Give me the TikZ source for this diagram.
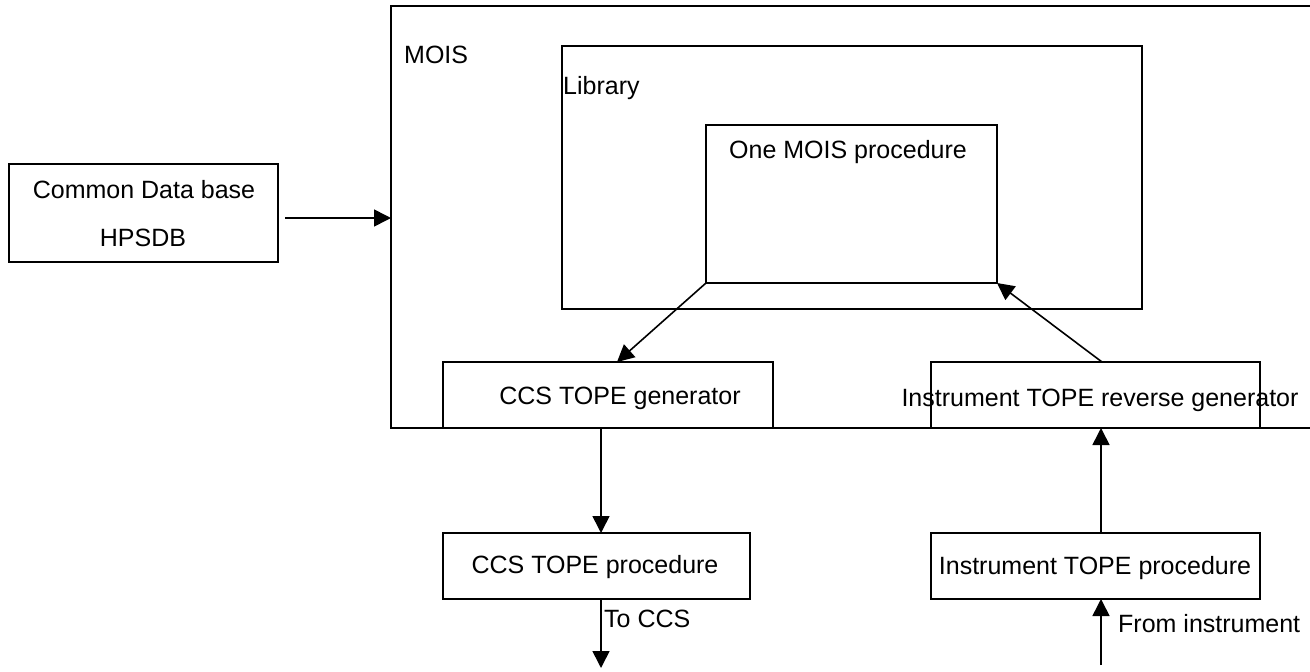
\documentclass[tikz,border=0pt]{standalone}
\usepackage{fontspec}
\setmainfont{Liberation Sans}
\usetikzlibrary{arrows.meta}
\begin{document}
\begin{tikzpicture}[x=1pt,y=-1pt,
  box/.style={draw,line width=1.6pt,inner sep=0pt,outer sep=0pt,anchor=north west},
  lbl/.style={inner sep=0pt,font=\fontsize{25}{30}\selectfont},
  arr/.style={line width=1.6pt,-{Triangle[length=17pt,width=17pt]}}]
\useasboundingbox (0,0) rectangle (1310,672);
\clip (0,0) rectangle (1310,672);
% boxes
\node[box,minimum width=269pt,minimum height=98pt] (db) at (9,164) {};
\node[box,minimum width=930pt,minimum height=422pt] (mois) at (391,6) {};
\node[box,minimum width=580pt,minimum height=263pt] (lib) at (562,46) {};
\node[box,minimum width=291pt,minimum height=158pt] (proc) at (706,125) {};
\node[box,fill=white,minimum width=330pt,minimum height=66pt] (ccsgen) at (443,362) {};
\node[box,fill=white,minimum width=329pt,minimum height=66pt] (instgen) at (931,362) {};
\node[box,minimum width=307pt,minimum height=66pt] (ccsproc) at (443,533) {};
\node[box,minimum width=329pt,minimum height=66pt] (instproc) at (931,533) {};
% texts
\node[lbl,anchor=base] (tdb1) at (144,198) {Common Data base};
\node[lbl,anchor=base] (tdb2) at (143,246) {HPSDB};
\node[lbl,anchor=base west] (tmois) at (404,63) {MOIS};
\node[lbl,anchor=base west] (tlib) at (563,94) {Library};
\node[lbl,anchor=base] (tproc) at (848,158) {One MOIS procedure};
\node[lbl,anchor=base] (tccsgen) at (620,404) {CCS TOPE generator};
\node[lbl,anchor=base] (tinstgen) at (1100,406) {Instrument TOPE reverse generator};
\node[lbl,anchor=base] (tccsproc) at (595,573) {CCS TOPE procedure};
\node[lbl,anchor=base] (tinstproc) at (1095,574) {Instrument TOPE procedure};
\node[lbl,anchor=base west] (tto) at (604,627) {To CCS};
\node[lbl,anchor=base west] (tfrom) at (1118,632) {From instrument};
% connectors
\coordinate (dbout) at (285,218);
\coordinate (ccsout) at (601,668);
\coordinate (instin) at (1101,665);
\draw[arr] (dbout) -- (dbout -| mois.west);
\draw[arr] (proc.south west) -- (617,362);
\draw[arr] (1102,362) -- (proc.south east);
\draw[arr] (601,428) -- (601,533);
\draw[arr] (601,599) -- (ccsout);
\draw[arr] (1101,533) -- (1101,428);
\draw[arr] (instin) -- (1101,599);
\end{tikzpicture}
\end{document}
